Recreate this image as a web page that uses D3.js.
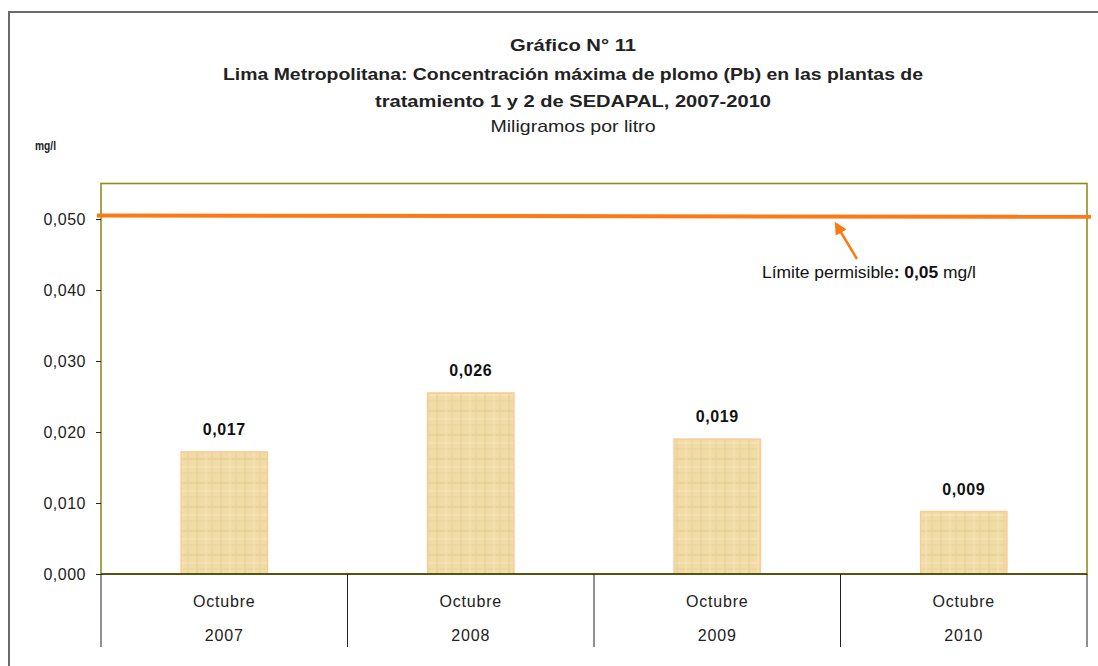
<!DOCTYPE html>
<html>
<head>
<meta charset="utf-8">
<script src="https://cdn.jsdelivr.net/npm/d3@7"></script>
<style>
  html, body { margin: 0; padding: 0; background: #fff; }
  svg { display: block; }
  .narrow { font-family: "Liberation Sans Narrow", "Arial Narrow", "Liberation Sans", Arial, sans-serif; }
  .sans { font-family: "Liberation Sans", Arial, sans-serif; }
</style>
</head>
<body>
<svg id="chart" width="1098" height="666"></svg>
<script>
// ---- data ----
const months = ["Octubre", "Octubre", "Octubre", "Octubre"];
const years = ["2007", "2008", "2009", "2010"];
const values = [0.0172, 0.0255, 0.0190, 0.0088];
const valueLabels = ["0,017", "0,026", "0,019", "0,009"];
const yTicks = [0, 0.01, 0.02, 0.03, 0.04, 0.05];
const yTickLabels = ["0,000", "0,010", "0,020", "0,030", "0,040", "0,050"];
const limitLine = [0.0505, 0.0503];   // drawn limit line (left, right)
const limitValue = "0,05";
const titleLines = [
  "Gráfico N° 11",
  "Lima Metropolitana: Concentración máxima de plomo (Pb) en las plantas de",
  "tratamiento 1 y 2 de SEDAPAL, 2007-2010"
];
const subtitle = "Miligramos por litro";
const unitLabel = "mg/l";

// ---- layout ----
const svg = d3.select("#chart");
const plot = { left: 101, right: 1087, top: 183.5, bottom: 574 };

const x = d3.scaleBand().domain(years).range([plot.left, plot.right]).padding(0);
const y = d3.scaleLinear().domain([0, 0.055]).range([plot.bottom, plot.top]);

// outer frame (only top/left visible)
svg.append("rect")
  .attr("x", 9).attr("y", 12).attr("width", 1200).attr("height", 800)
  .attr("fill", "none").attr("stroke", "#6a6a6a").attr("stroke-width", 2);

// titles
const titleCx = 573;
const titleY = [51, 80, 107];
const titleW = [126, 700, 396];
titleLines.forEach((t, i) => {
  svg.append("text").attr("class", "narrow")
    .attr("x", titleCx).attr("y", titleY[i])
    .attr("text-anchor", "middle")
    .attr("font-size", 17).attr("font-weight", "bold").attr("fill", "#222")
    .attr("textLength", titleW[i]).attr("lengthAdjust", "spacingAndGlyphs")
    .text(t);
});
svg.append("text").attr("class", "narrow")
  .attr("x", titleCx).attr("y", 132)
  .attr("text-anchor", "middle")
  .attr("font-size", 17).attr("fill", "#222")
  .attr("textLength", 165).attr("lengthAdjust", "spacingAndGlyphs")
  .text(subtitle);

svg.append("text").attr("class", "narrow")
  .attr("x", 35).attr("y", 150)
  .attr("font-size", 12.5).attr("font-weight", "bold").attr("fill", "#222")
  .attr("textLength", 21).attr("lengthAdjust", "spacingAndGlyphs")
  .text(unitLabel);

// texture pattern for bars
const defs = svg.append("defs");
const pat = defs.append("pattern").attr("id", "papyrus")
  .attr("patternUnits", "userSpaceOnUse").attr("width", 24).attr("height", 24);
pat.append("rect").attr("width", 24).attr("height", 24).attr("fill", "#f1dca6");
[[0,3,24,3,"#e6cf94"],[0,11,24,11,"#f6e6bc"],[0,17,24,17,"#e9d49c"],
 [5,0,5,24,"#e8d199"],[14,0,14,24,"#f5e4b6"],[20,0,20,24,"#ead59e"]].forEach(l => {
  pat.append("line").attr("x1", l[0]).attr("y1", l[1]).attr("x2", l[2]).attr("y2", l[3])
    .attr("stroke", l[4]).attr("stroke-width", 1.2);
});

// plot area border
svg.append("rect")
  .attr("x", plot.left).attr("y", plot.top)
  .attr("width", plot.right - plot.left).attr("height", plot.bottom - plot.top)
  .attr("fill", "none").attr("stroke", "#8e8e1c").attr("stroke-width", 1.6);

// bars
const barW = x.bandwidth() * 0.35;
svg.selectAll("rect.bar").data(values).enter().append("rect")
  .attr("class", "bar")
  .attr("x", (d, i) => x(years[i]) + x.bandwidth() / 2 - barW / 2)
  .attr("y", d => y(d))
  .attr("width", barW)
  .attr("height", d => y(0) - y(d))
  .attr("fill", "url(#papyrus)")
  .attr("stroke", "#fcc998").attr("stroke-width", 1.5);

// value labels
svg.selectAll("text.vlabel").data(values).enter().append("text")
  .attr("class", "vlabel sans")
  .attr("x", (d, i) => x(years[i]) + x.bandwidth() / 2)
  .attr("y", d => y(d) - 17)
  .attr("text-anchor", "middle")
  .attr("font-size", 16).attr("font-weight", "bold").attr("fill", "#111")
  .attr("letter-spacing", 0.6)
  .text((d, i) => valueLabels[i]);

// x axis baseline
svg.append("line")
  .attr("x1", plot.left).attr("x2", plot.right)
  .attr("y1", y(0)).attr("y2", y(0))
  .attr("stroke", "#55550f").attr("stroke-width", 2);

// y axis ticks & labels
const yAxis = d3.axisLeft(y).tickValues(yTicks).tickSize(5)
  .tickFormat((d, i) => yTickLabels[i]);
const gy = svg.append("g").attr("transform", `translate(${plot.left},0)`).call(yAxis);
gy.select(".domain").remove();
gy.selectAll(".tick line").attr("stroke", "#222");
gy.selectAll(".tick text")
  .attr("class", "sans").attr("font-size", 16).attr("fill", "#222")
  .attr("x", -15).attr("letter-spacing", 0.5);

// category divider lines
const bounds = years.map(v => x(v)).concat([plot.right]);
svg.selectAll("line.div").data(bounds).enter().append("line")
  .attr("class", "div")
  .attr("x1", d => d).attr("x2", d => d)
  .attr("y1", y(0)).attr("y2", 647)
  .attr("stroke", "#222").attr("stroke-width", 1);

// category labels
svg.selectAll("text.month").data(months).enter().append("text")
  .attr("class", "month sans")
  .attr("x", (d, i) => x(years[i]) + x.bandwidth() / 2)
  .attr("y", 607)
  .attr("text-anchor", "middle").attr("font-size", 16).attr("fill", "#222")
  .attr("letter-spacing", 0.8)
  .text(d => d);
svg.selectAll("text.year").data(years).enter().append("text")
  .attr("class", "year sans")
  .attr("x", d => x(d) + x.bandwidth() / 2)
  .attr("y", 641)
  .attr("text-anchor", "middle").attr("font-size", 16).attr("fill", "#222")
  .attr("letter-spacing", 0.8)
  .text(d => d);

// limit line
svg.append("line")
  .attr("x1", plot.left - 4).attr("x2", plot.right + 4)
  .attr("y1", y(limitLine[0])).attr("y2", y(limitLine[1]))
  .attr("stroke", "#fc7a16").attr("stroke-width", 4);

// arrow
defs.append("marker").attr("id", "arrowhead")
  .attr("viewBox", "0 0 10 10").attr("refX", 8).attr("refY", 5)
  .attr("markerWidth", 5).attr("markerHeight", 5).attr("orient", "auto")
  .append("path").attr("d", "M0,0 L10,5 L0,10 z").attr("fill", "#fc7a16");
svg.append("line")
  .attr("x1", 857).attr("y1", 259)
  .attr("x2", 836).attr("y2", 224)
  .attr("stroke", "#fc7a16").attr("stroke-width", 2.5)
  .attr("marker-end", "url(#arrowhead)");

// annotation text
const ann = svg.append("text").attr("class", "sans")
  .attr("x", 762).attr("y", 278).attr("font-size", 16).attr("fill", "#111")
  .attr("textLength", 214).attr("lengthAdjust", "spacingAndGlyphs");
ann.append("tspan").text("Límite permisible");
ann.append("tspan").attr("font-weight", "bold").text(": " + limitValue);
ann.append("tspan").text(" mg/l");
</script>
</body>
</html>
